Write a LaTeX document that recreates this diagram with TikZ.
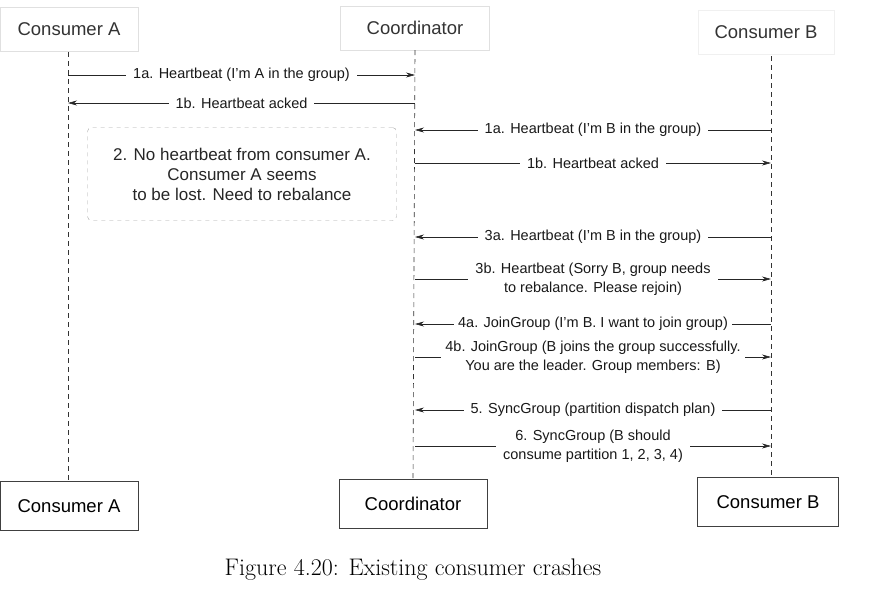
\documentclass[tikz,border=0pt]{standalone}
\usepackage{fontspec}
\setsansfont{Liberation Sans}
\usetikzlibrary{positioning,calc,arrows.meta}

\tikzset{
	actortop/.style={draw=black!12,fill=white,minimum height=44pt,font=\sffamily\fontsize{18.5}{20}\selectfont,text=black!80},
	actorbot/.style={draw=black!75,fill=white,minimum height=49pt,font=\sffamily\fontsize{18.5}{20}\selectfont},
	lifeline/.style={draw=black!80,dash pattern=on 5pt off 4pt,line width=0.6pt},
	msg/.style={-{Stealth[length=9pt,width=5pt]},line width=0.6pt,black!85},
	lbl/.style={fill=white,inner xsep=7pt,inner ysep=1pt,align=center,font=\sffamily\fontsize{14.5}{19}\selectfont,text=black!90},
}

\begin{document}
\begin{tikzpicture}[x=1pt,y=-1pt]
		\useasboundingbox (0,0) rectangle (881,590);
		% actors at the top
		\node[actortop,minimum width=138pt] (cat) at (69,29) {Consumer A};
		\node[actortop,minimum width=149pt] (cot) at (415,28) {Coordinator};
		\node[actortop,minimum width=136pt,draw=black!6] (cbt) at (766,32) {Consumer B};
		% actors at the bottom
		\node[actorbot,minimum width=138pt] (cab) at (69,506) {Consumer A};
		\node[actorbot,minimum width=148pt] (cob) at (413,504) {Coordinator};
		\node[actorbot,minimum width=141pt] (cbb) at (768,502) {Consumer B};
		
		\draw[lifeline] (68,52)--(cab.north -| 68,0);
		\draw[lifeline] (cot.south)--(cob.north);
		\draw[lifeline] (771,56)--(cbb.north -| 771,0);
		
		% points on the lifelines
		\coordinate (a1) at (68,75);
		\coordinate (c1) at (415,75);
		\coordinate (a2) at (68,103);
		\coordinate (c2) at (415,103);
		\coordinate (c3) at (415,130);
		\coordinate (b3) at (771,130);
		\coordinate (c4) at (415,163);
		\coordinate (b4) at (771,163);
		\coordinate (c5) at (415,237);
		\coordinate (b5) at (771,237);
		\coordinate (c6) at (415,279);
		\coordinate (b6) at (771,279);
		\coordinate (c7) at (415,324);
		\coordinate (b7) at (771,324);
		\coordinate (c8) at (415,357);
		\coordinate (b8) at (771,357);
		\coordinate (c9) at (415,410);
		\coordinate (b9) at (771,410);
		\coordinate (c10) at (415,446);
		\coordinate (b10) at (771,446);
		
		\draw[msg] (a1)--node[lbl] {1a. Heartbeat (I'm A in the group)} (c1);
		\draw[msg] (c2)--node[lbl] {1b. Heartbeat acked} (a2);
		
		\node[draw=black!35,dash pattern=on 4pt off 4pt,rounded corners=4pt,minimum width=309pt,minimum height=93pt,align=center,font=\sffamily\fontsize{17}{20}\selectfont,text=black!85] (lost) at (242,174) {2. No heartbeat from consumer A.\\Consumer A seems\\to be lost. Need to rebalance};
		
		\draw[msg] (b3)--node[lbl] {1a. Heartbeat (I'm B in the group)} (c3);
		\draw[msg] (c4)--node[lbl] {1b. Heartbeat acked} (b4);
		\draw[msg] (b5)--node[lbl] {3a. Heartbeat (I'm B in the group)} (c5);
		\draw[msg] (c6)--node[lbl] {3b. Heartbeat (Sorry B, group needs\\to rebalance. Please rejoin)} (b6);
		\draw[msg] (b7)--node[lbl,inner xsep=4pt] {4a. JoinGroup (I'm B. I want to join group)} (c7);
		\draw[msg] (c8)--node[lbl,inner xsep=4pt] {4b. JoinGroup (B joins the group successfully.\\You are the leader. Group members: B)} (b8);
		\draw[msg] (b9)--node[lbl] {5. SyncGroup (partition dispatch plan)} (c9);
		\draw[msg] (c10)--node[lbl] {6. SyncGroup (B should\\consume partition 1, 2, 3, 4)} (b10);
		
		\node[font=\fontsize{24}{28}\selectfont] (caption) at (413,570) {Figure 4.20: Existing consumer crashes};
	\end{tikzpicture}
\end{document}
